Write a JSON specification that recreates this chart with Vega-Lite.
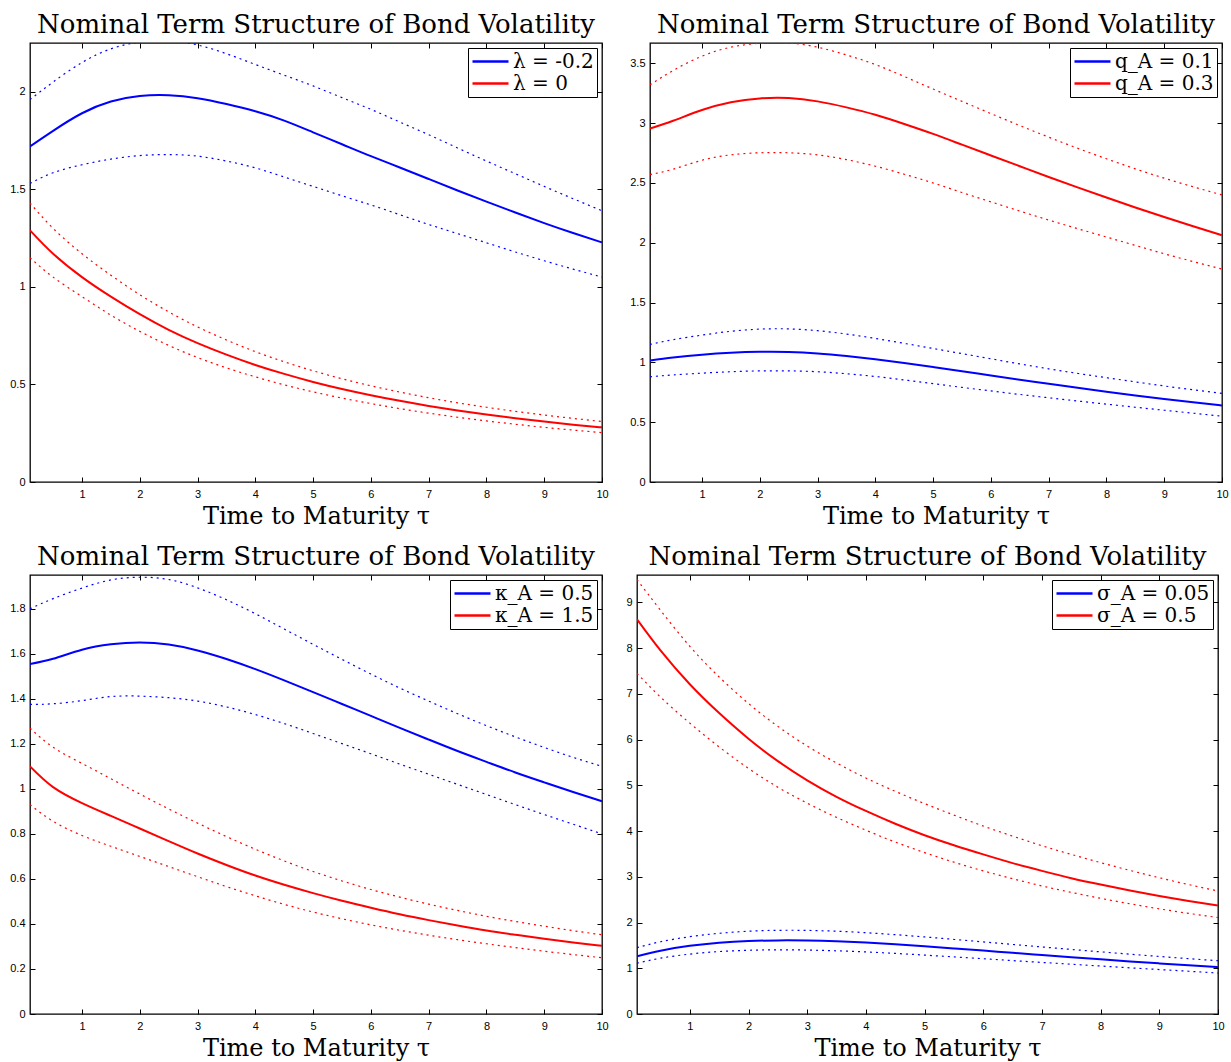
{
  "$schema": "https://vega.github.io/schema/vega-lite/v6.json",
  "padding": {"left": 9, "top": 10, "right": 5, "bottom": 0},
  "background": "white",
  "datasets": {
    "p1": [
      {"tau":0.1,"s":"λ = -0.2","mid":1.72,"lo":1.53,"hi":1.96},
      {"tau":0.5,"s":"λ = -0.2","mid":1.80,"lo":1.585,"hi":2.05},
      {"tau":1,"s":"λ = -0.2","mid":1.89,"lo":1.626,"hi":2.15},
      {"tau":1.5,"s":"λ = -0.2","mid":1.95,"lo":1.655,"hi":2.22},
      {"tau":2,"s":"λ = -0.2","mid":1.978,"lo":1.673,"hi":2.255},
      {"tau":2.5,"s":"λ = -0.2","mid":1.982,"lo":1.678,"hi":2.262},
      {"tau":3,"s":"λ = -0.2","mid":1.967,"lo":1.67,"hi":2.24},
      {"tau":3.5,"s":"λ = -0.2","mid":1.937,"lo":1.645,"hi":2.195},
      {"tau":4,"s":"λ = -0.2","mid":1.90,"lo":1.61,"hi":2.14},
      {"tau":4.5,"s":"λ = -0.2","mid":1.852,"lo":1.563,"hi":2.085},
      {"tau":5,"s":"λ = -0.2","mid":1.792,"lo":1.515,"hi":2.03},
      {"tau":5.5,"s":"λ = -0.2","mid":1.731,"lo":1.467,"hi":1.97},
      {"tau":6,"s":"λ = -0.2","mid":1.67,"lo":1.42,"hi":1.91},
      {"tau":6.5,"s":"λ = -0.2","mid":1.612,"lo":1.37,"hi":1.845},
      {"tau":7,"s":"λ = -0.2","mid":1.553,"lo":1.32,"hi":1.78},
      {"tau":7.5,"s":"λ = -0.2","mid":1.494,"lo":1.273,"hi":1.712},
      {"tau":8,"s":"λ = -0.2","mid":1.437,"lo":1.226,"hi":1.645},
      {"tau":8.5,"s":"λ = -0.2","mid":1.381,"lo":1.179,"hi":1.58},
      {"tau":9,"s":"λ = -0.2","mid":1.327,"lo":1.134,"hi":1.515},
      {"tau":9.5,"s":"λ = -0.2","mid":1.276,"lo":1.091,"hi":1.452},
      {"tau":10,"s":"λ = -0.2","mid":1.228,"lo":1.05,"hi":1.39},
      {"tau":0.1,"s":"λ = 0","mid":1.29,"lo":1.15,"hi":1.43},
      {"tau":0.5,"s":"λ = 0","mid":1.17,"lo":1.05,"hi":1.30},
      {"tau":1,"s":"λ = 0","mid":1.05,"lo":0.95,"hi":1.17},
      {"tau":1.5,"s":"λ = 0","mid":0.95,"lo":0.855,"hi":1.06},
      {"tau":2,"s":"λ = 0","mid":0.86,"lo":0.772,"hi":0.96},
      {"tau":2.5,"s":"λ = 0","mid":0.78,"lo":0.70,"hi":0.872},
      {"tau":3,"s":"λ = 0","mid":0.712,"lo":0.638,"hi":0.795},
      {"tau":3.5,"s":"λ = 0","mid":0.653,"lo":0.585,"hi":0.728},
      {"tau":4,"s":"λ = 0","mid":0.60,"lo":0.539,"hi":0.668},
      {"tau":4.5,"s":"λ = 0","mid":0.554,"lo":0.498,"hi":0.616},
      {"tau":5,"s":"λ = 0","mid":0.513,"lo":0.462,"hi":0.57},
      {"tau":5.5,"s":"λ = 0","mid":0.477,"lo":0.43,"hi":0.529},
      {"tau":6,"s":"λ = 0","mid":0.445,"lo":0.402,"hi":0.493},
      {"tau":6.5,"s":"λ = 0","mid":0.416,"lo":0.376,"hi":0.461},
      {"tau":7,"s":"λ = 0","mid":0.39,"lo":0.353,"hi":0.432},
      {"tau":7.5,"s":"λ = 0","mid":0.367,"lo":0.332,"hi":0.406},
      {"tau":8,"s":"λ = 0","mid":0.346,"lo":0.313,"hi":0.383},
      {"tau":8.5,"s":"λ = 0","mid":0.327,"lo":0.296,"hi":0.362},
      {"tau":9,"s":"λ = 0","mid":0.31,"lo":0.28,"hi":0.343},
      {"tau":9.5,"s":"λ = 0","mid":0.294,"lo":0.266,"hi":0.326},
      {"tau":10,"s":"λ = 0","mid":0.28,"lo":0.253,"hi":0.31}
    ],
    "p2": [
      {"tau":0.1,"s":"q_A = 0.1","mid":1.015,"lo":0.88,"hi":1.15},
      {"tau":0.5,"s":"q_A = 0.1","mid":1.04,"lo":0.895,"hi":1.19},
      {"tau":1,"s":"q_A = 0.1","mid":1.064,"lo":0.91,"hi":1.228},
      {"tau":1.5,"s":"q_A = 0.1","mid":1.08,"lo":0.922,"hi":1.26},
      {"tau":2,"s":"q_A = 0.1","mid":1.088,"lo":0.929,"hi":1.278},
      {"tau":2.5,"s":"q_A = 0.1","mid":1.087,"lo":0.929,"hi":1.28},
      {"tau":3,"s":"q_A = 0.1","mid":1.075,"lo":0.922,"hi":1.265},
      {"tau":3.5,"s":"q_A = 0.1","mid":1.053,"lo":0.905,"hi":1.237},
      {"tau":4,"s":"q_A = 0.1","mid":1.026,"lo":0.882,"hi":1.20},
      {"tau":4.5,"s":"q_A = 0.1","mid":0.995,"lo":0.853,"hi":1.159},
      {"tau":5,"s":"q_A = 0.1","mid":0.961,"lo":0.822,"hi":1.116},
      {"tau":5.5,"s":"q_A = 0.1","mid":0.926,"lo":0.791,"hi":1.073},
      {"tau":6,"s":"q_A = 0.1","mid":0.89,"lo":0.761,"hi":1.03},
      {"tau":6.5,"s":"q_A = 0.1","mid":0.855,"lo":0.732,"hi":0.987},
      {"tau":7,"s":"q_A = 0.1","mid":0.821,"lo":0.704,"hi":0.946},
      {"tau":7.5,"s":"q_A = 0.1","mid":0.787,"lo":0.677,"hi":0.908},
      {"tau":8,"s":"q_A = 0.1","mid":0.755,"lo":0.651,"hi":0.872},
      {"tau":8.5,"s":"q_A = 0.1","mid":0.724,"lo":0.625,"hi":0.837},
      {"tau":9,"s":"q_A = 0.1","mid":0.694,"lo":0.6,"hi":0.803},
      {"tau":9.5,"s":"q_A = 0.1","mid":0.666,"lo":0.575,"hi":0.771},
      {"tau":10,"s":"q_A = 0.1","mid":0.64,"lo":0.55,"hi":0.74},
      {"tau":0.1,"s":"q_A = 0.3","mid":2.955,"lo":2.57,"hi":3.32},
      {"tau":0.5,"s":"q_A = 0.3","mid":3.02,"lo":2.615,"hi":3.44},
      {"tau":1,"s":"q_A = 0.3","mid":3.11,"lo":2.69,"hi":3.56},
      {"tau":1.5,"s":"q_A = 0.3","mid":3.175,"lo":2.735,"hi":3.635},
      {"tau":2,"s":"q_A = 0.3","mid":3.207,"lo":2.752,"hi":3.668},
      {"tau":2.5,"s":"q_A = 0.3","mid":3.21,"lo":2.752,"hi":3.67},
      {"tau":3,"s":"q_A = 0.3","mid":3.182,"lo":2.735,"hi":3.635},
      {"tau":3.5,"s":"q_A = 0.3","mid":3.132,"lo":2.695,"hi":3.57},
      {"tau":4,"s":"q_A = 0.3","mid":3.07,"lo":2.64,"hi":3.49},
      {"tau":4.5,"s":"q_A = 0.3","mid":2.993,"lo":2.573,"hi":3.39},
      {"tau":5,"s":"q_A = 0.3","mid":2.91,"lo":2.50,"hi":3.285},
      {"tau":5.5,"s":"q_A = 0.3","mid":2.82,"lo":2.42,"hi":3.182},
      {"tau":6,"s":"q_A = 0.3","mid":2.73,"lo":2.342,"hi":3.08},
      {"tau":6.5,"s":"q_A = 0.3","mid":2.64,"lo":2.265,"hi":2.98},
      {"tau":7,"s":"q_A = 0.3","mid":2.55,"lo":2.19,"hi":2.883},
      {"tau":7.5,"s":"q_A = 0.3","mid":2.463,"lo":2.118,"hi":2.79},
      {"tau":8,"s":"q_A = 0.3","mid":2.378,"lo":2.048,"hi":2.702},
      {"tau":8.5,"s":"q_A = 0.3","mid":2.295,"lo":1.978,"hi":2.618},
      {"tau":9,"s":"q_A = 0.3","mid":2.215,"lo":1.908,"hi":2.54},
      {"tau":9.5,"s":"q_A = 0.3","mid":2.138,"lo":1.843,"hi":2.468},
      {"tau":10,"s":"q_A = 0.3","mid":2.063,"lo":1.78,"hi":2.40}
    ],
    "p3": [
      {"tau":0.1,"s":"κ_A = 0.5","mid":1.555,"lo":1.375,"hi":1.80},
      {"tau":0.5,"s":"κ_A = 0.5","mid":1.578,"lo":1.378,"hi":1.845},
      {"tau":1,"s":"κ_A = 0.5","mid":1.618,"lo":1.392,"hi":1.892},
      {"tau":1.5,"s":"κ_A = 0.5","mid":1.642,"lo":1.41,"hi":1.928},
      {"tau":2,"s":"κ_A = 0.5","mid":1.65,"lo":1.412,"hi":1.94},
      {"tau":2.5,"s":"κ_A = 0.5","mid":1.641,"lo":1.405,"hi":1.93},
      {"tau":3,"s":"κ_A = 0.5","mid":1.615,"lo":1.39,"hi":1.893},
      {"tau":3.5,"s":"κ_A = 0.5","mid":1.577,"lo":1.364,"hi":1.84},
      {"tau":4,"s":"κ_A = 0.5","mid":1.532,"lo":1.33,"hi":1.778},
      {"tau":4.5,"s":"κ_A = 0.5","mid":1.482,"lo":1.29,"hi":1.71},
      {"tau":5,"s":"κ_A = 0.5","mid":1.43,"lo":1.246,"hi":1.642},
      {"tau":5.5,"s":"κ_A = 0.5","mid":1.377,"lo":1.201,"hi":1.575},
      {"tau":6,"s":"κ_A = 0.5","mid":1.324,"lo":1.156,"hi":1.51},
      {"tau":6.5,"s":"κ_A = 0.5","mid":1.271,"lo":1.11,"hi":1.448},
      {"tau":7,"s":"κ_A = 0.5","mid":1.219,"lo":1.065,"hi":1.39},
      {"tau":7.5,"s":"κ_A = 0.5","mid":1.168,"lo":1.02,"hi":1.334},
      {"tau":8,"s":"κ_A = 0.5","mid":1.12,"lo":0.975,"hi":1.281},
      {"tau":8.5,"s":"κ_A = 0.5","mid":1.073,"lo":0.93,"hi":1.231},
      {"tau":9,"s":"κ_A = 0.5","mid":1.029,"lo":0.886,"hi":1.184},
      {"tau":9.5,"s":"κ_A = 0.5","mid":0.986,"lo":0.843,"hi":1.14},
      {"tau":10,"s":"κ_A = 0.5","mid":0.945,"lo":0.80,"hi":1.10},
      {"tau":0.1,"s":"κ_A = 1.5","mid":1.10,"lo":0.93,"hi":1.27},
      {"tau":0.5,"s":"κ_A = 1.5","mid":1.008,"lo":0.856,"hi":1.185},
      {"tau":1,"s":"κ_A = 1.5","mid":0.937,"lo":0.793,"hi":1.113},
      {"tau":1.5,"s":"κ_A = 1.5","mid":0.88,"lo":0.745,"hi":1.045},
      {"tau":2,"s":"κ_A = 1.5","mid":0.824,"lo":0.70,"hi":0.977},
      {"tau":2.5,"s":"κ_A = 1.5","mid":0.768,"lo":0.655,"hi":0.911},
      {"tau":3,"s":"κ_A = 1.5","mid":0.713,"lo":0.61,"hi":0.848},
      {"tau":3.5,"s":"κ_A = 1.5","mid":0.662,"lo":0.566,"hi":0.788},
      {"tau":4,"s":"κ_A = 1.5","mid":0.615,"lo":0.525,"hi":0.732},
      {"tau":4.5,"s":"κ_A = 1.5","mid":0.574,"lo":0.487,"hi":0.68},
      {"tau":5,"s":"κ_A = 1.5","mid":0.537,"lo":0.453,"hi":0.633},
      {"tau":5.5,"s":"κ_A = 1.5","mid":0.503,"lo":0.423,"hi":0.591},
      {"tau":6,"s":"κ_A = 1.5","mid":0.472,"lo":0.396,"hi":0.553},
      {"tau":6.5,"s":"κ_A = 1.5","mid":0.443,"lo":0.372,"hi":0.519},
      {"tau":7,"s":"κ_A = 1.5","mid":0.417,"lo":0.35,"hi":0.488},
      {"tau":7.5,"s":"κ_A = 1.5","mid":0.393,"lo":0.33,"hi":0.46},
      {"tau":8,"s":"κ_A = 1.5","mid":0.371,"lo":0.312,"hi":0.434},
      {"tau":8.5,"s":"κ_A = 1.5","mid":0.352,"lo":0.295,"hi":0.411},
      {"tau":9,"s":"κ_A = 1.5","mid":0.334,"lo":0.279,"hi":0.39},
      {"tau":9.5,"s":"κ_A = 1.5","mid":0.318,"lo":0.264,"hi":0.37},
      {"tau":10,"s":"κ_A = 1.5","mid":0.303,"lo":0.25,"hi":0.352}
    ],
    "p4": [
      {"tau":0.1,"s":"σ_A = 0.05","mid":1.26,"lo":1.11,"hi":1.45},
      {"tau":0.5,"s":"σ_A = 0.05","mid":1.385,"lo":1.22,"hi":1.58},
      {"tau":1,"s":"σ_A = 0.05","mid":1.49,"lo":1.31,"hi":1.69},
      {"tau":1.5,"s":"σ_A = 0.05","mid":1.557,"lo":1.365,"hi":1.765},
      {"tau":2,"s":"σ_A = 0.05","mid":1.595,"lo":1.393,"hi":1.81},
      {"tau":2.5,"s":"σ_A = 0.05","mid":1.61,"lo":1.403,"hi":1.83},
      {"tau":3,"s":"σ_A = 0.05","mid":1.607,"lo":1.398,"hi":1.828},
      {"tau":3.5,"s":"σ_A = 0.05","mid":1.59,"lo":1.382,"hi":1.81},
      {"tau":4,"s":"σ_A = 0.05","mid":1.562,"lo":1.357,"hi":1.778},
      {"tau":4.5,"s":"σ_A = 0.05","mid":1.525,"lo":1.325,"hi":1.735},
      {"tau":5,"s":"σ_A = 0.05","mid":1.482,"lo":1.288,"hi":1.685},
      {"tau":5.5,"s":"σ_A = 0.05","mid":1.435,"lo":1.249,"hi":1.632},
      {"tau":6,"s":"σ_A = 0.05","mid":1.387,"lo":1.209,"hi":1.577},
      {"tau":6.5,"s":"σ_A = 0.05","mid":1.338,"lo":1.168,"hi":1.521},
      {"tau":7,"s":"σ_A = 0.05","mid":1.29,"lo":1.128,"hi":1.466},
      {"tau":7.5,"s":"σ_A = 0.05","mid":1.242,"lo":1.088,"hi":1.412},
      {"tau":8,"s":"σ_A = 0.05","mid":1.195,"lo":1.049,"hi":1.359},
      {"tau":8.5,"s":"σ_A = 0.05","mid":1.15,"lo":1.01,"hi":1.308},
      {"tau":9,"s":"σ_A = 0.05","mid":1.107,"lo":0.972,"hi":1.258},
      {"tau":9.5,"s":"σ_A = 0.05","mid":1.065,"lo":0.935,"hi":1.21},
      {"tau":10,"s":"σ_A = 0.05","mid":1.025,"lo":0.895,"hi":1.165},
      {"tau":0.1,"s":"σ_A = 0.5","mid":8.63,"lo":7.45,"hi":9.5},
      {"tau":0.5,"s":"σ_A = 0.5","mid":7.95,"lo":6.93,"hi":8.83},
      {"tau":1,"s":"σ_A = 0.5","mid":7.21,"lo":6.36,"hi":8.04},
      {"tau":1.5,"s":"σ_A = 0.5","mid":6.58,"lo":5.84,"hi":7.37},
      {"tau":2,"s":"σ_A = 0.5","mid":6.02,"lo":5.37,"hi":6.79},
      {"tau":2.5,"s":"σ_A = 0.5","mid":5.53,"lo":4.96,"hi":6.29},
      {"tau":3,"s":"σ_A = 0.5","mid":5.11,"lo":4.61,"hi":5.86},
      {"tau":3.5,"s":"σ_A = 0.5","mid":4.75,"lo":4.30,"hi":5.49},
      {"tau":4,"s":"σ_A = 0.5","mid":4.44,"lo":4.02,"hi":5.16},
      {"tau":4.5,"s":"σ_A = 0.5","mid":4.16,"lo":3.76,"hi":4.87},
      {"tau":5,"s":"σ_A = 0.5","mid":3.91,"lo":3.53,"hi":4.60},
      {"tau":5.5,"s":"σ_A = 0.5","mid":3.69,"lo":3.32,"hi":4.35},
      {"tau":6,"s":"σ_A = 0.5","mid":3.49,"lo":3.13,"hi":4.11},
      {"tau":6.5,"s":"σ_A = 0.5","mid":3.30,"lo":2.96,"hi":3.89},
      {"tau":7,"s":"σ_A = 0.5","mid":3.13,"lo":2.80,"hi":3.68},
      {"tau":7.5,"s":"σ_A = 0.5","mid":2.97,"lo":2.66,"hi":3.49},
      {"tau":8,"s":"σ_A = 0.5","mid":2.83,"lo":2.53,"hi":3.31},
      {"tau":8.5,"s":"σ_A = 0.5","mid":2.70,"lo":2.41,"hi":3.14},
      {"tau":9,"s":"σ_A = 0.5","mid":2.58,"lo":2.30,"hi":2.98},
      {"tau":9.5,"s":"σ_A = 0.5","mid":2.47,"lo":2.20,"hi":2.83},
      {"tau":10,"s":"σ_A = 0.5","mid":2.37,"lo":2.11,"hi":2.69}
    ]
  },
  "config": {
    "font": "Liberation Sans",
    "view": {"stroke": "black", "strokeWidth": 1.3},
    "title": {"font": "DejaVu Serif", "fontSize": 26, "fontWeight": "normal", "color": "black", "offset": 5, "anchor": "middle"},
    "axis": {"domain": false, "grid": false, "tickColor": "black", "tickSize": -5, "tickWidth": 1, "labelPadding": 10, "labelFont": "Liberation Sans", "labelFontSize": 11, "labelColor": "black", "titleFont": "DejaVu Serif", "titleFontSize": 24, "titleFontWeight": "normal", "titleColor": "black", "labelAngle": 0, "labelFlush": false, "labelOverlap": false},
    "axisX": {"titlePadding": 5, "labelPadding": 11},
    "axisY": {"labelPadding": 10},
    "legend": {"labelFont": "DejaVu Serif", "labelFontSize": 20, "labelColor": "black", "strokeColor": "black", "fillColor": "white", "padding": 3, "symbolType": "M-2,0H2", "symbolSize": 324, "symbolOffset": 9, "labelOffset": 12, "symbolStrokeWidth": 2.5, "rowPadding": 1, "offset": 5, "labelLimit": 300, "cornerRadius": 0, "orient": "top-right"}
  },
  "spacing": 13,
  "resolve": {"scale": {"color": "independent", "stroke": "independent"}, "legend": {"color": "independent", "stroke": "independent"}},
  "vconcat": [
    {"hconcat": [
      {"title": "Nominal Term Structure of Bond Volatility", "width": 572, "height": 439, "data": {"name": "p1"},
       "resolve": {"axis": {"x": "independent", "y": "independent"}},
       "layer": [
        {"mark": {"type": "line", "strokeWidth": 2, "interpolate": "natural", "clip": true},
         "encoding": {
          "x": {"field": "tau", "type": "quantitative", "scale": {"domain": [0.1, 10], "nice": false, "zero": false}, "axis": {"values": [1,2,3,4,5,6,7,8,9,10], "title": "Time to Maturity τ"}},
          "y": {"field": "mid", "type": "quantitative", "scale": {"domain": [0, 2.25], "nice": false}, "axis": {"values": [0,0.5,1,1.5,2], "format": "~g", "title": null}},
          "color": {"field": "s", "type": "nominal", "scale": {"domain": ["λ = -0.2", "λ = 0"], "range": ["#0000ff", "#ff0000"]}, "legend": {"title": null}}}},
        {"mark": {"type": "line", "strokeWidth": 1.2, "strokeDash": [2, 4], "interpolate": "natural", "clip": true},
         "encoding": {
          "x": {"field": "tau", "type": "quantitative", "scale": {"domain": [0.1, 10], "nice": false, "zero": false}, "axis": null},
          "y": {"field": "lo", "type": "quantitative", "scale": {"domain": [0, 2.25], "nice": false}, "axis": null},
          "stroke": {"field": "s", "type": "nominal", "scale": {"domain": ["λ = -0.2", "λ = 0"], "range": ["#0000ff", "#ff0000"]}, "legend": null}}},
        {"mark": {"type": "line", "strokeWidth": 1.2, "strokeDash": [2, 4], "interpolate": "natural", "clip": true},
         "encoding": {
          "x": {"field": "tau", "type": "quantitative", "scale": {"domain": [0.1, 10], "nice": false, "zero": false}, "axis": {"orient": "top", "values": [1,2,3,4,5,6,7,8,9,10], "labels": false, "title": null}},
          "y": {"field": "hi", "type": "quantitative", "scale": {"domain": [0, 2.25], "nice": false}, "axis": {"orient": "right", "values": [0,0.5,1,1.5,2], "labels": false, "title": null}},
          "stroke": {"field": "s", "type": "nominal", "scale": {"domain": ["λ = -0.2", "λ = 0"], "range": ["#0000ff", "#ff0000"]}, "legend": null}}}
       ]},
      {"title": "Nominal Term Structure of Bond Volatility", "width": 572, "height": 439, "data": {"name": "p2"},
       "resolve": {"axis": {"x": "independent", "y": "independent"}},
       "layer": [
        {"mark": {"type": "line", "strokeWidth": 2, "interpolate": "natural", "clip": true},
         "encoding": {
          "x": {"field": "tau", "type": "quantitative", "scale": {"domain": [0.1, 10], "nice": false, "zero": false}, "axis": {"values": [1,2,3,4,5,6,7,8,9,10], "title": "Time to Maturity τ"}},
          "y": {"field": "mid", "type": "quantitative", "scale": {"domain": [0, 3.67], "nice": false}, "axis": {"values": [0,0.5,1,1.5,2,2.5,3,3.5], "format": "~g", "title": null}},
          "color": {"field": "s", "type": "nominal", "scale": {"domain": ["q_A = 0.1", "q_A = 0.3"], "range": ["#0000ff", "#ff0000"]}, "legend": {"title": null}}}},
        {"mark": {"type": "line", "strokeWidth": 1.2, "strokeDash": [2, 4], "interpolate": "natural", "clip": true},
         "encoding": {
          "x": {"field": "tau", "type": "quantitative", "scale": {"domain": [0.1, 10], "nice": false, "zero": false}, "axis": null},
          "y": {"field": "lo", "type": "quantitative", "scale": {"domain": [0, 3.67], "nice": false}, "axis": null},
          "stroke": {"field": "s", "type": "nominal", "scale": {"domain": ["q_A = 0.1", "q_A = 0.3"], "range": ["#0000ff", "#ff0000"]}, "legend": null}}},
        {"mark": {"type": "line", "strokeWidth": 1.2, "strokeDash": [2, 4], "interpolate": "natural", "clip": true},
         "encoding": {
          "x": {"field": "tau", "type": "quantitative", "scale": {"domain": [0.1, 10], "nice": false, "zero": false}, "axis": {"orient": "top", "values": [1,2,3,4,5,6,7,8,9,10], "labels": false, "title": null}},
          "y": {"field": "hi", "type": "quantitative", "scale": {"domain": [0, 3.67], "nice": false}, "axis": {"orient": "right", "values": [0,0.5,1,1.5,2,2.5,3,3.5], "labels": false, "title": null}},
          "stroke": {"field": "s", "type": "nominal", "scale": {"domain": ["q_A = 0.1", "q_A = 0.3"], "range": ["#0000ff", "#ff0000"]}, "legend": null}}}
       ]}
    ], "spacing": 20, "resolve": {"scale": {"color": "independent", "stroke": "independent"}, "legend": {"color": "independent", "stroke": "independent"}}},
    {"hconcat": [
      {"title": "Nominal Term Structure of Bond Volatility", "width": 572, "height": 439, "data": {"name": "p3"},
       "resolve": {"axis": {"x": "independent", "y": "independent"}},
       "layer": [
        {"mark": {"type": "line", "strokeWidth": 2, "interpolate": "natural", "clip": true},
         "encoding": {
          "x": {"field": "tau", "type": "quantitative", "scale": {"domain": [0.1, 10], "nice": false, "zero": false}, "axis": {"values": [1,2,3,4,5,6,7,8,9,10], "title": "Time to Maturity τ"}},
          "y": {"field": "mid", "type": "quantitative", "scale": {"domain": [0, 1.95], "nice": false}, "axis": {"values": [0,0.2,0.4,0.6,0.8,1,1.2,1.4,1.6,1.8], "format": "~g", "title": null}},
          "color": {"field": "s", "type": "nominal", "scale": {"domain": ["κ_A = 0.5", "κ_A = 1.5"], "range": ["#0000ff", "#ff0000"]}, "legend": {"title": null}}}},
        {"mark": {"type": "line", "strokeWidth": 1.2, "strokeDash": [2, 4], "interpolate": "natural", "clip": true},
         "encoding": {
          "x": {"field": "tau", "type": "quantitative", "scale": {"domain": [0.1, 10], "nice": false, "zero": false}, "axis": null},
          "y": {"field": "lo", "type": "quantitative", "scale": {"domain": [0, 1.95], "nice": false}, "axis": null},
          "stroke": {"field": "s", "type": "nominal", "scale": {"domain": ["κ_A = 0.5", "κ_A = 1.5"], "range": ["#0000ff", "#ff0000"]}, "legend": null}}},
        {"mark": {"type": "line", "strokeWidth": 1.2, "strokeDash": [2, 4], "interpolate": "natural", "clip": true},
         "encoding": {
          "x": {"field": "tau", "type": "quantitative", "scale": {"domain": [0.1, 10], "nice": false, "zero": false}, "axis": {"orient": "top", "values": [1,2,3,4,5,6,7,8,9,10], "labels": false, "title": null}},
          "y": {"field": "hi", "type": "quantitative", "scale": {"domain": [0, 1.95], "nice": false}, "axis": {"orient": "right", "values": [0,0.2,0.4,0.6,0.8,1,1.2,1.4,1.6,1.8], "labels": false, "title": null}},
          "stroke": {"field": "s", "type": "nominal", "scale": {"domain": ["κ_A = 0.5", "κ_A = 1.5"], "range": ["#0000ff", "#ff0000"]}, "legend": null}}}
       ]},
      {"title": "Nominal Term Structure of Bond Volatility", "width": 581, "height": 439, "data": {"name": "p4"},
       "resolve": {"axis": {"x": "independent", "y": "independent"}},
       "layer": [
        {"mark": {"type": "line", "strokeWidth": 2, "interpolate": "natural", "clip": true},
         "encoding": {
          "x": {"field": "tau", "type": "quantitative", "scale": {"domain": [0.1, 10], "nice": false, "zero": false}, "axis": {"values": [1,2,3,4,5,6,7,8,9,10], "title": "Time to Maturity τ"}},
          "y": {"field": "mid", "type": "quantitative", "scale": {"domain": [0, 9.6], "nice": false}, "axis": {"values": [0,1,2,3,4,5,6,7,8,9], "format": "~g", "title": null}},
          "color": {"field": "s", "type": "nominal", "scale": {"domain": ["σ_A = 0.05", "σ_A = 0.5"], "range": ["#0000ff", "#ff0000"]}, "legend": {"title": null}}}},
        {"mark": {"type": "line", "strokeWidth": 1.2, "strokeDash": [2, 4], "interpolate": "natural", "clip": true},
         "encoding": {
          "x": {"field": "tau", "type": "quantitative", "scale": {"domain": [0.1, 10], "nice": false, "zero": false}, "axis": null},
          "y": {"field": "lo", "type": "quantitative", "scale": {"domain": [0, 9.6], "nice": false}, "axis": null},
          "stroke": {"field": "s", "type": "nominal", "scale": {"domain": ["σ_A = 0.05", "σ_A = 0.5"], "range": ["#0000ff", "#ff0000"]}, "legend": null}}},
        {"mark": {"type": "line", "strokeWidth": 1.2, "strokeDash": [2, 4], "interpolate": "natural", "clip": true},
         "encoding": {
          "x": {"field": "tau", "type": "quantitative", "scale": {"domain": [0.1, 10], "nice": false, "zero": false}, "axis": {"orient": "top", "values": [1,2,3,4,5,6,7,8,9,10], "labels": false, "title": null}},
          "y": {"field": "hi", "type": "quantitative", "scale": {"domain": [0, 9.6], "nice": false}, "axis": {"orient": "right", "values": [0,1,2,3,4,5,6,7,8,9], "labels": false, "title": null}},
          "stroke": {"field": "s", "type": "nominal", "scale": {"domain": ["σ_A = 0.05", "σ_A = 0.5"], "range": ["#0000ff", "#ff0000"]}, "legend": null}}}
       ]}
    ], "spacing": 16, "resolve": {"scale": {"color": "independent", "stroke": "independent"}, "legend": {"color": "independent", "stroke": "independent"}}}
  ]
}
